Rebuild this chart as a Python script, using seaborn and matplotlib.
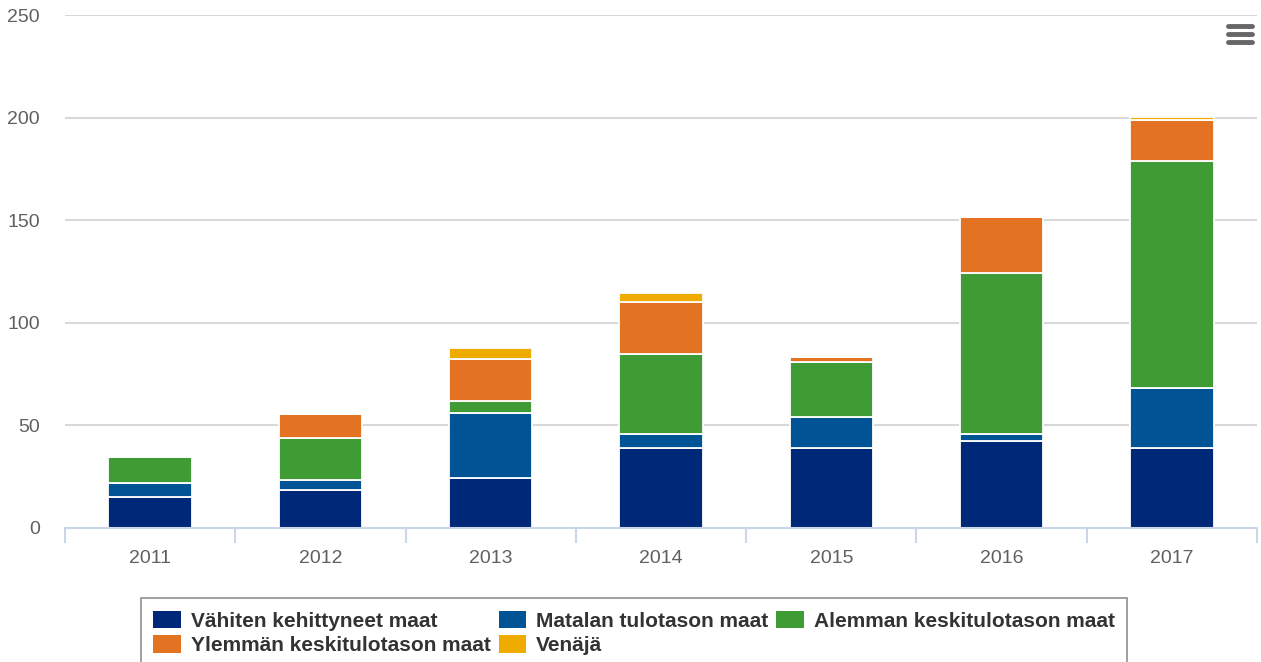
import matplotlib.pyplot as plt
import numpy as np
import pandas as pd
import seaborn as sns
from matplotlib.patches import Patch
from matplotlib.lines import Line2D

# data
years = [2011, 2012, 2013, 2014, 2015, 2016, 2017]
series = [
    "Vähiten kehittyneet maat",
    "Matalan tulotason maat",
    "Alemman keskitulotason maat",
    "Ylemmän keskitulotason maat",
    "Venäjä",
]
vahiten = [15, 18.5, 24.5, 39, 39, 42.5, 39]
matalan = [7, 5, 31.5, 7, 15, 3.5, 29]
alemman = [12.5, 20.5, 6, 39, 27, 78.5, 111]
ylemman = [0, 11.5, 20.5, 25, 2.5, 27, 20]
venaja = [0, 0, 5, 4.5, 0, 0, 1.5]
colors = ["#002878", "#005394", "#3f9c35", "#e37222", "#f0ab00"]
y_ticks = [0, 50, 100, 150, 200, 250]

rows = []
for name, vals in zip(series, [vahiten, matalan, alemman, ylemman, venaja]):
    for yr, v in zip(years, vals):
        rows.append({"year": yr, "series": name, "value": v})
df = pd.DataFrame(rows)

sns.set_theme(style="white")
plt.rcParams["font.family"] = ["Liberation Sans", "DejaVu Sans"]

fig = plt.figure(figsize=(12.61, 6.62), dpi=100)
ax = fig.add_axes([65 / 1261, 134 / 662, 1192 / 1261, 513 / 662])

# seaborn stacks the last hue level at the bottom, so reverse the order
sns.histplot(
    data=df, x="year", hue="series", weights="value",
    hue_order=series[::-1], palette=colors[::-1],
    multiple="stack", discrete=True, shrink=0.49,
    edgecolor="white", linewidth=1.3, alpha=1, legend=False, ax=ax,
)

ax.set_xlim(2010.5, 2017.5)
ax.set_ylim(0, 250)
ax.set_xlabel("")
ax.set_ylabel("")
ax.set_yticks(y_ticks)
ax.set_yticklabels([str(t) for t in y_ticks])
ax.set_xticks(years)
ax.set_xticklabels([str(y) for y in years])
ax.set_xticks(np.arange(2010.5, 2018, 1), minor=True)
ax.tick_params(axis="x", which="major", bottom=False, length=0, pad=16,
               labelsize=14, labelcolor="#606060")
ax.tick_params(axis="x", which="minor", bottom=True, length=11, width=1.5,
               color="#ccd6eb", direction="out")
ax.tick_params(axis="y", left=False, length=0, pad=18, labelsize=14, labelcolor="#606060")

for t in y_ticks[1:]:
    ax.axhline(t, color="#d8d8d8", linewidth=1.5, zorder=0)
ax.set_axisbelow(True)
for side in ["top", "right", "left"]:
    ax.spines[side].set_visible(False)
ax.spines["bottom"].set_color("#ccd6eb")
ax.spines["bottom"].set_linewidth(1.5)

# legend, reordered so items read row by row
handles = [Patch(facecolor=c, edgecolor="none") for c in colors]
order = [0, 3, 1, 4, 2]
leg = fig.legend(
    [handles[i] for i in order], [series[i] for i in order],
    ncol=3, loc="upper center", bbox_to_anchor=(634 / 1261, 64 / 662),
    frameon=True, fancybox=False, framealpha=1, edgecolor="#999999",
    prop={"weight": "bold", "size": 15}, handlelength=1.3, handleheight=0.95,
    handletextpad=0.48, columnspacing=0.4, labelspacing=0.2, borderpad=0.6,
    borderaxespad=0,
)
leg.get_frame().set_linewidth(1.3)
for txt in leg.get_texts():
    txt.set_color("#333333")

# menu icon in the upper right corner
for yy in [26, 34, 42]:
    fig.add_artist(Line2D([1228 / 1261, 1252 / 1261], [1 - yy / 662] * 2,
                          color="#666666", linewidth=3.5, solid_capstyle="round"))

fig.savefig("out.png", dpi=100)
